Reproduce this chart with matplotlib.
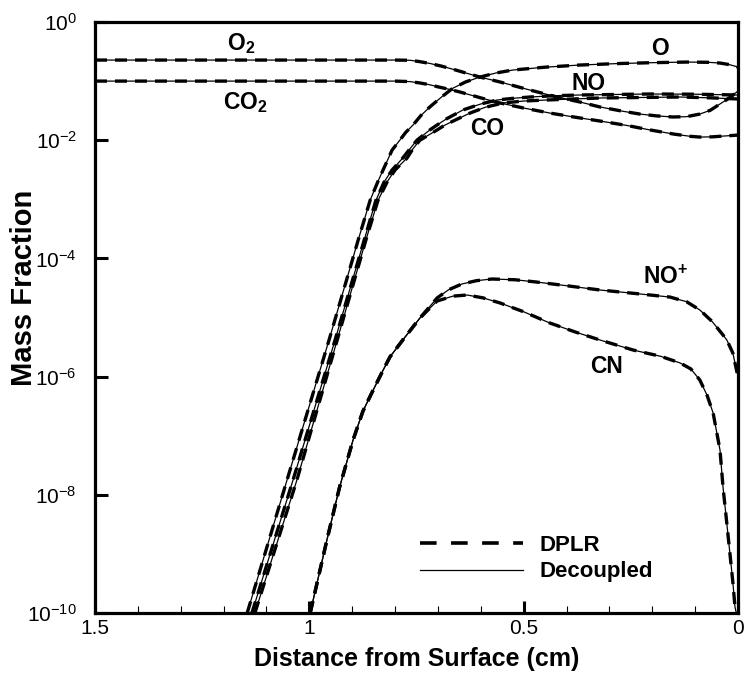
import matplotlib
matplotlib.use("Agg")
import matplotlib.pyplot as plt
from matplotlib.lines import Line2D
from matplotlib.ticker import FixedLocator, FixedFormatter, NullLocator, MultipleLocator

plt.rcParams['font.family'] = ['Liberation Sans', 'DejaVu Sans']
plt.rcParams['mathtext.fontset'] = 'custom'
plt.rcParams['mathtext.rm'] = 'Liberation Sans'
plt.rcParams['mathtext.bf'] = 'Liberation Sans:bold'
plt.rcParams['mathtext.default'] = 'regular'

# ---------------- data (distance in cm, mass fraction) ----------------
o2_x = [1.5, 0.80, 0.765, 0.745, 0.719, 0.69, 0.66, 0.63, 0.602, 0.555, 0.49, 0.422, 0.37, 0.322, 0.27, 0.229, 0.19, 0.152, 0.12, 0.089, 0.065, 0.042, 0.02, 0.0]
o2_y = [0.227, 0.227, 0.225, 0.215, 0.199, 0.178, 0.155, 0.134, 0.117, 0.0966, 0.072, 0.0538, 0.0445, 0.0365, 0.031, 0.0277, 0.0258, 0.0247, 0.0250, 0.0277, 0.032, 0.041, 0.052, 0.068]

co2_x = [1.5, 0.80, 0.765, 0.742, 0.72, 0.70, 0.675, 0.649, 0.60, 0.555, 0.50, 0.439, 0.38, 0.322, 0.26, 0.205, 0.15, 0.11, 0.089, 0.06, 0.03, 0.0]
co2_y = [0.100, 0.100, 0.098, 0.093, 0.087, 0.080, 0.073, 0.0655, 0.052, 0.0426, 0.035, 0.0288, 0.0245, 0.0211, 0.0178, 0.0149, 0.0127, 0.0116, 0.0113, 0.0114, 0.0118, 0.0122]

o_x = [1.145, 1.052, 0.954, 0.886, 0.858, 0.84, 0.828, 0.807, 0.789, 0.775, 0.758, 0.74, 0.719, 0.69, 0.665, 0.635, 0.602, 0.565, 0.525, 0.45, 0.369, 0.28, 0.20, 0.119, 0.07, 0.042, 0.02, 0.0]
o_y = [1e-10, 1.78e-8, 4.16e-6, 2.05e-4, 9.7e-4, 2.0e-3, 3.13e-3, 6.8e-3, 1.0e-2, 1.36e-2, 1.81e-2, 2.6e-2, 3.65e-2, 5.5e-2, 7.6e-2, 9.7e-2, 0.117, 0.137, 0.154, 0.172, 0.187, 0.198, 0.205, 0.210, 0.208, 0.202, 0.19, 0.173]

no_x = [1.134, 1.038, 0.940, 0.872, 0.845, 0.825, 0.807, 0.782, 0.765, 0.749, 0.719, 0.70, 0.68, 0.66, 0.642, 0.60, 0.562, 0.52, 0.485, 0.43, 0.369, 0.205, 0.10, 0.0]
no_y = [1e-10, 1.78e-8, 4.16e-6, 2.05e-4, 9.5e-4, 2.0e-3, 3.13e-3, 5.0e-3, 7.2e-3, 1.0e-2, 1.49e-2, 1.85e-2, 2.3e-2, 2.75e-2, 3.24e-2, 4.1e-2, 4.79e-2, 5.15e-2, 5.38e-2, 5.65e-2, 5.82e-2, 6.05e-2, 6.0e-2, 5.82e-2]

co_x = [1.127, 1.029, 0.935, 0.868, 0.84, 0.818, 0.800, 0.772, 0.758, 0.742, 0.722, 0.702, 0.685, 0.665, 0.625, 0.59, 0.548, 0.50, 0.446, 0.322, 0.135, 0.06, 0.0]
co_y = [1e-10, 1.78e-8, 4.16e-6, 2.05e-4, 9.5e-4, 2.0e-3, 3.13e-3, 5.0e-3, 7.2e-3, 1.0e-2, 1.22e-2, 1.49e-2, 1.78e-2, 2.1e-2, 2.88e-2, 3.6e-2, 4.26e-2, 4.6e-2, 4.79e-2, 5.18e-2, 5.38e-2, 5.2e-2, 4.98e-2]

nop_x = [0.998, 0.959, 0.93, 0.898, 0.875, 0.851, 0.83, 0.812, 0.782, 0.742, 0.702, 0.675, 0.644, 0.61, 0.574, 0.52, 0.471, 0.40, 0.322, 0.24, 0.159, 0.12, 0.089, 0.06, 0.035, 0.026, 0.012, 0.002]
nop_y = [1e-10, 1.72e-9, 1.3e-8, 8.45e-8, 2.6e-7, 5.93e-7, 1.2e-6, 2.15e-6, 4.16e-6, 9.8e-6, 2.14e-5, 2.95e-5, 3.69e-5, 4.2e-5, 4.48e-5, 4.35e-5, 3.99e-5, 3.45e-5, 2.92e-5, 2.55e-5, 2.22e-5, 1.85e-5, 1.34e-5, 8.5e-6, 5.06e-6, 4.16e-6, 2.5e-6, 1.15e-6]

cn_x = [0.998, 0.959, 0.93, 0.898, 0.875, 0.851, 0.83, 0.812, 0.782, 0.742, 0.702, 0.665, 0.632, 0.595, 0.555, 0.50, 0.439, 0.38, 0.322, 0.245, 0.18, 0.135, 0.11, 0.089, 0.072, 0.058, 0.042, 0.035, 0.027, 0.019, 0.012, 0.007, 0.004]
cn_y = [1e-10, 1.72e-9, 1.3e-8, 8.45e-8, 2.6e-7, 5.93e-7, 1.2e-6, 2.15e-6, 4.16e-6, 9.8e-6, 1.90e-5, 2.3e-5, 2.40e-5, 2.15e-5, 1.76e-5, 1.25e-5, 8.07e-6, 5.7e-6, 4.16e-6, 2.82e-6, 2.2e-6, 1.70e-6, 1.35e-6, 8.75e-7, 4.8e-7, 2.42e-7, 5.73e-8, 1.36e-8, 3.8e-9, 1.04e-9, 3.3e-10, 1.26e-10, 1e-10]

species = [(o2_x, o2_y), (co2_x, co2_y), (o_x, o_y), (no_x, no_y),
           (co_x, co_y), (nop_x, nop_y), (cn_x, cn_y)]

label_text = [r'O$_{\mathbf{2}}$', r'CO$_{\mathbf{2}}$', 'O', 'NO', 'CO', r'NO$^{\mathbf{+}}$', 'CN']
label_x = [1.159, 1.150, 0.182, 0.348, 0.584, 0.170, 0.306]
label_y = [0.44, 0.0434, 0.363, 0.091, 0.0158, 4.84e-5, 1.48e-6]

xtick_vals = [1.5, 1.0, 0.5, 0.0]
xtick_labels = ['1.5', '1', '0.5', '0']
ytick_vals = [1e-10, 1e-8, 1e-6, 1e-4, 1e-2, 1e0]
ytick_labels = [r'10$^{-10}$', r'10$^{-8}$', r'10$^{-6}$', r'10$^{-4}$', r'10$^{-2}$', r'10$^{0}$']
series_names = ['DPLR', 'Decoupled']

# ---------------- figure ----------------
fig = plt.figure(figsize=(7.48, 6.77), dpi=100)
ax = fig.add_axes([95/748, 1-613/677, (738-95)/748, (613-22)/677])

dash_style = dict(color='black', lw=2.4, ls=(0, (3.6, 2.4)), dash_capstyle='butt')
solid_style = dict(color='black', lw=0.9, ls='-')
for xs, ys in species:
    ax.plot(xs, ys, **dash_style)
    ax.plot(xs, ys, **solid_style)

for t, x, y in zip(label_text, label_x, label_y):
    ax.text(x, y, t, ha='center', va='center', fontsize=16.5, fontweight='bold')

ax.set_yscale('log')
ax.set_xlim(1.5, 0.0)
ax.set_ylim(1e-10, 1.0)

ax.xaxis.set_major_locator(FixedLocator(xtick_vals))
ax.xaxis.set_major_formatter(FixedFormatter(xtick_labels))
ax.xaxis.set_minor_locator(MultipleLocator(0.1))
ax.yaxis.set_major_locator(FixedLocator(ytick_vals))
ax.yaxis.set_major_formatter(FixedFormatter(ytick_labels))
ax.yaxis.set_minor_locator(NullLocator())

ax.tick_params(axis='both', which='major', direction='in', length=9, width=2.2,
               labelsize=15, top=False, right=False)
ax.tick_params(axis='y', which='major', pad=13)
ax.tick_params(axis='x', which='major', pad=4)
ax.tick_params(axis='x', which='minor', direction='in', length=5, width=0.8, top=False)
for s in ax.spines.values():
    s.set_linewidth(2.3)

ax.set_xlabel('Distance from Surface (cm)', fontsize=18, fontweight='bold', labelpad=7)
ax.set_ylabel('Mass Fraction', fontsize=21, fontweight='bold')
ax.yaxis.set_label_coords(-0.088, 0.55)

leg_dash = dict(color='black', lw=2.6, ls=(0, (4.6, 4.0)), dash_capstyle='butt')
handles = [Line2D([], [], **leg_dash), Line2D([], [], **solid_style)]
ax.legend(handles, series_names, loc='center left', bbox_to_anchor=(0.505, 0.092),
          frameon=False, borderpad=0, borderaxespad=0, handlelength=4.64,
          handletextpad=0.75, labelspacing=0.25,
          prop={'weight': 'bold', 'size': 16})

fig.savefig('out.png', dpi=100)
